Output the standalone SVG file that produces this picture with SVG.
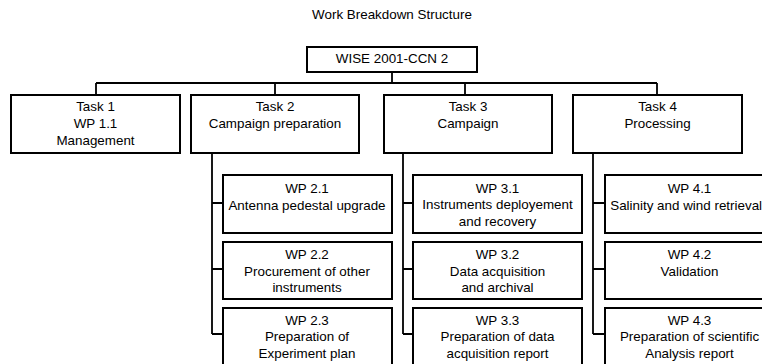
<svg xmlns="http://www.w3.org/2000/svg" width="762" height="364" viewBox="0 0 762 364">
<style>
.box{fill:#fff;stroke:#000;stroke-width:2}
.ln{fill:none;stroke:#000;stroke-width:1.8}
text{font-family:"Liberation Sans",Arial,sans-serif;font-size:13.4px;fill:#000;text-anchor:middle}
</style>
<rect width="762" height="364" fill="#fff"/>
<text id="title" x="392" y="19">Work Breakdown Structure</text>
<g id="connectors">
<path class="ln" d="M392,72 V83 M96,83 H657 M96,83 V95 M275,83 V95 M465,83 V95 M657,83 V95"/>
<path class="ln" d="M212,153 V334 M212,203 H223 M212,269 H223 M212,334 H223"/>
<path class="ln" d="M403,153 V334 M403,203 H413 M403,269 H413 M403,334 H413"/>
<path class="ln" d="M593,153 V334 M593,203 H605 M593,269 H605 M593,334 H605"/>
</g>
<g id="root"><rect class="box" x="307" y="47" width="170" height="25"/><text x="392" y="63">WISE 2001-CCN 2</text></g>
<g id="task1"><rect class="box" x="11" y="95" width="169" height="58"/><text x="95.5" y="111">Task 1</text><text x="95.5" y="128">WP 1.1</text><text x="95.5" y="145">Management</text></g>
<g id="task2"><rect class="box" x="191" y="95" width="168" height="58"/><text x="275" y="111">Task 2</text><text x="275" y="128">Campaign preparation</text></g>
<g id="task3"><rect class="box" x="384" y="95" width="168" height="58"/><text x="468" y="111">Task 3</text><text x="468" y="128">Campaign</text></g>
<g id="task4"><rect class="box" x="573" y="95" width="169" height="58"/><text x="657.5" y="111">Task 4</text><text x="657.5" y="128">Processing</text></g>
<g id="wp21"><rect class="box" x="223" y="175" width="169" height="58"/><text x="307" y="192.5">WP 2.1</text><text x="307" y="209.5">Antenna pedestal upgrade</text></g>
<g id="wp22"><rect class="box" x="223" y="242" width="169" height="57"/><text x="307" y="259">WP 2.2</text><text x="307" y="275.5">Procurement of other</text><text x="307" y="292">instruments</text></g>
<g id="wp23"><rect class="box" x="223" y="308" width="169" height="60"/><text x="307" y="324.5">WP 2.3</text><text x="307" y="341">Preparation of</text><text x="307" y="357.5">Experiment plan</text></g>
<g id="wp31"><rect class="box" x="413" y="175" width="169" height="58"/><text x="497.5" y="192.5">WP 3.1</text><text x="497.5" y="209">Instruments deployement</text><text x="497.5" y="225.5">and recovery</text></g>
<g id="wp32"><rect class="box" x="413" y="242" width="169" height="57"/><text x="497.5" y="259">WP 3.2</text><text x="497.5" y="275.5">Data acquisition</text><text x="497.5" y="292">and archival</text></g>
<g id="wp33"><rect class="box" x="413" y="308" width="169" height="60"/><text x="497.5" y="324.5">WP 3.3</text><text x="497.5" y="341">Preparation of data</text><text x="497.5" y="357.5">acquisition report</text></g>
<g id="wp41"><rect class="box" x="605" y="175" width="169" height="58"/><text x="689.5" y="192.5">WP 4.1</text><text x="689.5" y="209.5">Salinity and wind retrievals</text></g>
<g id="wp42"><rect class="box" x="605" y="242" width="169" height="57"/><text x="689.5" y="259">WP 4.2</text><text x="689.5" y="275.5">Validation</text></g>
<g id="wp43"><rect class="box" x="605" y="308" width="169" height="60"/><text x="689.5" y="324.5">WP 4.3</text><text x="689.5" y="341">Preparation of scientific</text><text x="689.5" y="357.5">Analysis report</text></g>
</svg>
